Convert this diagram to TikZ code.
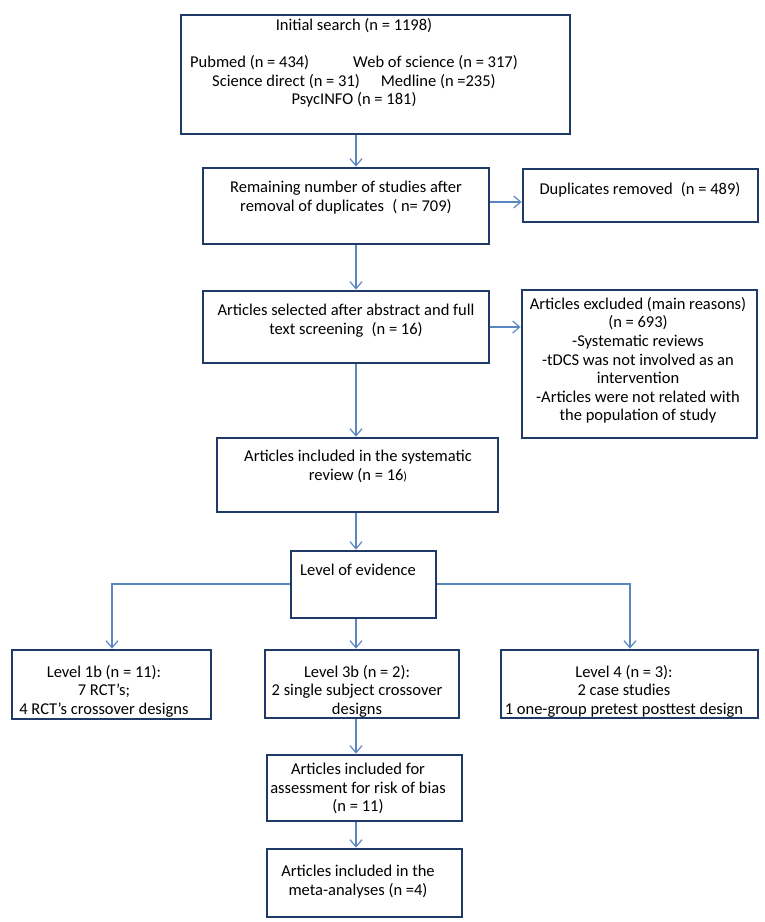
\documentclass[tikz,border=0pt]{standalone}
\usepackage{fontspec}
\setmainfont{Carlito}
\usetikzlibrary{arrows.meta,calc}
\definecolor{boxc}{HTML}{1F3A66}
\definecolor{arrc}{HTML}{5B87C0}
\begin{document}
\begin{tikzpicture}[x=1pt,y=-1pt,
 box/.style={draw=boxc,line width=2.8pt,fill=white,rectangle,inner sep=0pt,outer sep=0pt,anchor=north west},
 txt/.style={font=\fontsize{16.5}{18.6}\selectfont,align=center,inner sep=0pt,anchor=north,text=black},
 arr/.style={draw=arrc,line width=1.2pt,shorten >=1.4pt,shorten <=1.4pt,-{Straight Barb[length=7pt,width=12pt]}}]
\useasboundingbox[fill=white] (0,0) rectangle (765,922);
% boxes
\node[box,minimum width=389pt,minimum height=119pt] (b1) at (181,15) {};
\node[box,minimum width=286pt,minimum height=76pt] (b2) at (203,168) {};
\node[box,minimum width=235pt,minimum height=53pt] (dup) at (523,169) {};
\node[box,minimum width=286pt,minimum height=72pt] (b3) at (203,291) {};
\node[box,minimum width=235pt,minimum height=148pt] (exc) at (522,290) {};
\node[box,minimum width=281pt,minimum height=74pt] (b4) at (217,438) {};
\node[box,minimum width=145pt,minimum height=67pt] (loe) at (291,551) {};
\node[box,minimum width=199pt,minimum height=69pt] (l1) at (12,650) {};
\node[box,minimum width=194pt,minimum height=68pt] (l3) at (265,650) {};
\node[box,minimum width=257pt,minimum height=68pt] (l4) at (501,650) {};
\node[box,minimum width=195pt,minimum height=66pt] (as) at (267,755) {};
\node[box,minimum width=195pt,minimum height=68pt] (me) at (267,849) {};
% texts
\node[txt] (t1) at (354,18) {Initial search (n = 1198)\\[18.6pt]
 Pubmed (n = 434)\hspace{44pt}Web of science (n = 317)\\
 Science direct (n = 31)\hspace{21pt}Medline (n =235)\\
 PsycINFO (n = 181)};
\node[txt] (t2) at (346,181) {Remaining number of studies after\\removal of duplicates\enspace( n= 709)};
\node[txt] (tdup) at (640,182) {Duplicates removed\enspace(n = 489)};
\node[txt] (t3) at (346,304) {Articles selected after abstract and full\\text screening\enspace(n = 16)};
\node[txt] (texc) at (638,297) {Articles excluded (main reasons)\\(n = 693)\\-Systematic reviews\\-tDCS was not involved as an\\intervention\\-Articles were not related with\\the population of study};
\node[txt] (t4) at (358,450) {Articles included in the systematic\\review (n = 16{\fontsize{12}{12}\selectfont)}};
\node[txt] (tloe) at (358,564) {Level of evidence};
\node[txt] (tl1) at (104,665) {Level 1b (n = 11):\\7 RCT’s;\\4 RCT’s crossover designs};
\node[txt] (tl3) at (357,665) {Level 3b (n = 2):\\2 single subject crossover\\designs};
\node[txt] (tl4) at (624,665) {Level 4 (n = 3):\\2 case studies\\1 one-group pretest posttest design};
\node[txt] (tas) at (358,763) {Articles included for\\assessment for risk of bias\\(n = 11)};
\node[txt] (tme) at (358,865) {Articles included in the\\meta-analyses (n =4)};
% helper coordinates
\coordinate (ax) at (356,0);
\coordinate (ay1) at (0,202);
\coordinate (ay2) at (0,327);
\coordinate (hy) at (0,584);
\coordinate (lxl) at (112,0);
\coordinate (lxr) at (630,0);
% connectors
\draw[arr] (b1.south -| ax) -- (b2.north -| ax);
\draw[arr] (b2.east |- ay1) -- (dup.west |- ay1);
\draw[arr] (b2.south -| ax) -- (b3.north -| ax);
\draw[arr] (b3.east |- ay2) -- (exc.west |- ay2);
\draw[arr] (b3.south -| ax) -- (b4.north -| ax);
\draw[arr] (b4.south -| ax) -- (loe.north -| ax);
\draw[arr] (loe.west |- hy) -| (l1.north -| lxl);
\draw[arr] (loe.east |- hy) -| (l4.north -| lxr);
\draw[arr] (loe.south -| ax) -- (l3.north -| ax);
\draw[arr] (l3.south -| ax) -- (as.north -| ax);
\draw[arr] (as.south -| ax) -- (me.north -| ax);
\end{tikzpicture}
\end{document}
